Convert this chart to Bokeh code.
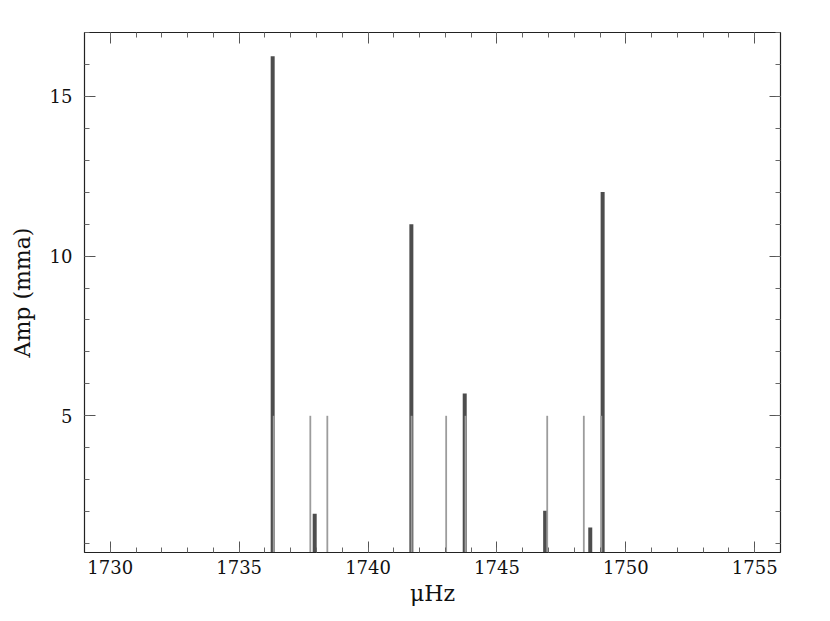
from bokeh.plotting import figure
from bokeh.models import LinearAxis, FixedTicker, Range1d, ColumnDataSource, CustomJSTickFormatter
from bokeh.embed import file_html
from bokeh.resources import INLINE

# ---- data ----
obs_freq = [1736.30, 1737.93, 1741.68, 1743.75, 1746.87, 1748.62, 1749.10]
obs_amp = [16.26, 1.93, 11.00, 5.70, 2.03, 1.50, 12.01]

comb_freq = [1736.34, 1737.76, 1738.42, 1741.69, 1743.03, 1743.78, 1746.95, 1748.37, 1749.05]
comb_amp = [5, 5, 5, 5, 5, 5, 5, 5, 5]

x_major = [1730, 1735, 1740, 1745, 1750, 1755]
x_minor = list(range(1729, 1757))
y_major = [5, 10, 15]
y_minor = list(range(1, 18))

x_lo, x_hi = 1729.0, 1756.0
y_lo, y_hi = 0.72, 17.0

obs = ColumnDataSource(dict(x=obs_freq, top=obs_amp, base=[0] * len(obs_freq)))
comb = ColumnDataSource(dict(x=comb_freq, top=comb_amp, base=[0] * len(comb_freq)))

p = figure(frame_width=696, frame_height=520,
           x_range=Range1d(x_lo, x_hi), y_range=Range1d(y_lo, y_hi),
           output_backend="svg", toolbar_location=None,
           x_axis_location=None, y_axis_location=None,
           min_border_left=84, min_border_right=36,
           min_border_top=32, min_border_bottom=61)
p.xgrid.visible = False
p.ygrid.visible = False
p.outline_line_color = "#222222"
p.outline_line_width = 1.2
p.background_fill_color = "white"
p.border_fill_color = "white"

p.segment(x0="x", y0="base", x1="x", y1="top", source=obs,
          line_color="#4d4d4d", line_width=4)
p.segment(x0="x", y0="base", x1="x", y1="top", source=comb,
          line_color="#9c9c9c", line_width=1.8)

TICK_FONT = "DejaVu Serif"
blank = CustomJSTickFormatter(code="return '';")


def style(ax, labels=True):
    ax.axis_line_color = "#222222"
    ax.major_tick_in = 11
    ax.major_tick_out = 0
    ax.minor_tick_in = 5
    ax.minor_tick_out = 0
    ax.major_tick_line_color = "#555555"
    ax.minor_tick_line_color = "#666666"
    ax.major_label_text_font = TICK_FONT
    ax.major_label_text_color = "#111111"
    if labels:
        ax.major_label_text_font_size = "18px"
    else:
        ax.formatter = blank
        ax.major_label_text_font_size = "2px"
        ax.major_label_standoff = 0
    ax.axis_label_text_font = TICK_FONT
    ax.axis_label_text_font_size = "22px"
    ax.axis_label_text_font_style = "normal"
    ax.axis_label_text_color = "#111111"


xt = FixedTicker(ticks=x_major, minor_ticks=x_minor)
yt = FixedTicker(ticks=y_major, minor_ticks=y_minor)

xb = LinearAxis(ticker=xt, axis_label="μHz")
style(xb)
xb.major_label_standoff = 7
xb.axis_label_standoff = 4
p.add_layout(xb, "below")

xa = LinearAxis(ticker=xt)
style(xa, labels=False)
p.add_layout(xa, "above")

yl = LinearAxis(ticker=yt, axis_label="Amp (mma)")
style(yl)
yl.major_label_standoff = 12
yl.axis_label_standoff = 12
p.add_layout(yl, "left")

yr = LinearAxis(ticker=yt)
style(yr, labels=False)
p.add_layout(yr, "right")

open("out.html", "w").write(file_html(p, INLINE))
